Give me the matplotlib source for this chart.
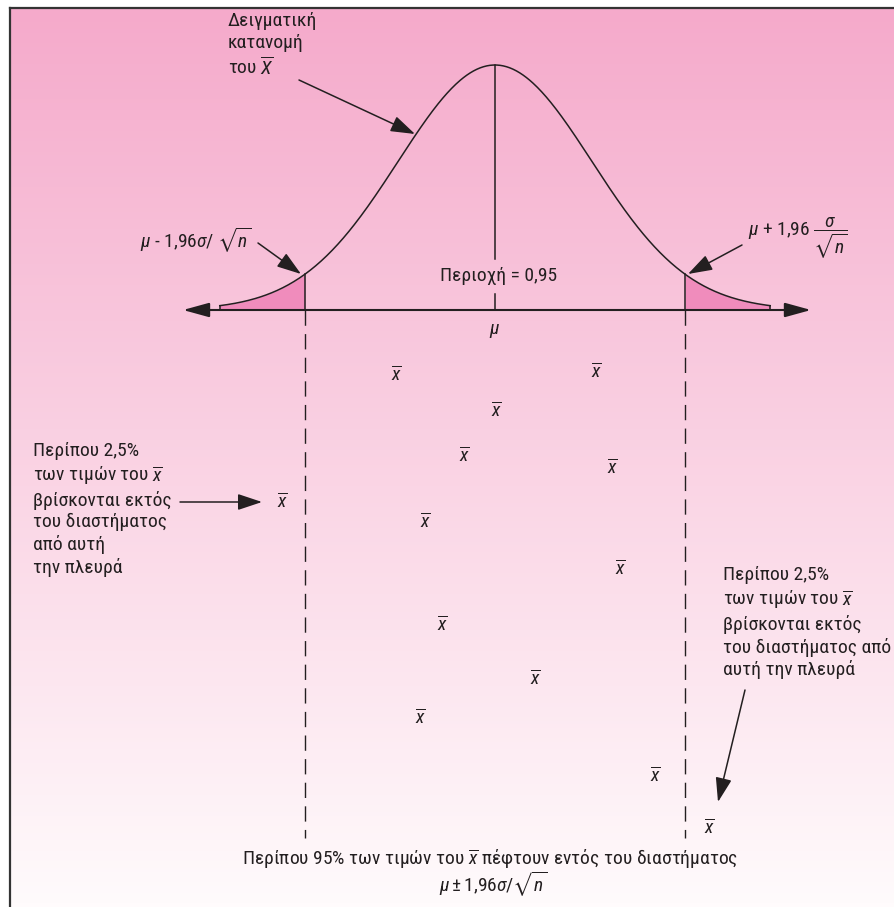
import numpy as np
import matplotlib
matplotlib.use("Agg")
import matplotlib.pyplot as plt
from matplotlib import font_manager

# sampling distribution of x-bar, x axis in standard-error units (sigma/sqrt(n))
z_crit = 1.96
tail_end = 2.84
# sample means (in SE units) and the row where each one is drawn
xbar_z = [-1.02, 1.05, 0.01, -0.31, 1.21, -2.19, -0.72, 1.29, -0.54, 0.42, -0.77, 1.66, 2.21]
xbar_row = [375, 372, 411, 456, 468, 502, 522, 569, 625, 679, 718, 776, 828]

label_dist = "Δειγματική\nκατανομή\nτου $\\overline{X}$"
label_low = r"$\mu$ - 1,96$\sigma$/ $\sqrt{n}$"
label_high = r"$\mu$ + 1,96 $\dfrac{\sigma}{\sqrt{n}}$"
label_area = "Περιοχή = 0,95"
label_left = ("Περίπου 2,5%\nτων τιμών του $\\overline{x}$\nβρίσκονται εκτός\n"
              "του διαστήματος\nαπό αυτή\nτην πλευρά")
label_right = ("Περίπου 2,5%\nτων τιμών του $\\overline{x}$\nβρίσκονται εκτός\n"
               "του διαστήματος από\nαυτή την πλευρά")
label_bottom1 = "Περίπου 95% των τιμών του $\\overline{x}$ πέφτουν εντός του διαστήματος"
label_bottom2 = r"$\mu \pm 1{,}96\sigma/\sqrt{n}$"

avail = {f.name for f in font_manager.fontManager.ttflist}
FONT = next(f for f in ["Liberation Sans Narrow", "Roboto Condensed", "Liberation Sans", "DejaVu Sans"] if f in avail)
plt.rcParams["font.family"] = [FONT, "DejaVu Sans"]
plt.rcParams["mathtext.fontset"] = "custom"
plt.rcParams["mathtext.rm"] = FONT
plt.rcParams["mathtext.sf"] = FONT
plt.rcParams["mathtext.it"] = FONT + ":italic"
plt.rcParams["mathtext.fallback"] = "stixsans"

W, H = 895, 907
MU_PX, SE_PX = 495, 96.9
AXIS_Y, PEAK_H = 310, 245
INK = "#231f20"
TAIL = "#f08cbc"
FS = 14

fig = plt.figure(figsize=(W / 100, H / 100), dpi=100)
ax = fig.add_axes([0, 0, 1, 1])


def X(px):
    return (px - MU_PX) / SE_PX


# pink gradient panel
top = np.array([245, 170, 203]) / 255
bot = np.array([255, 251, 252]) / 255
t = np.linspace(0, 1, 256)[:, None]
grad = (top + (bot - top) * t)[:, None, :]
ax.imshow(grad, extent=[X(10), X(W), H, 8], aspect="auto", zorder=0)
ax.plot([X(10), X(10)], [H, 8], color="#333333", lw=1.6, zorder=1)
ax.plot([X(10), X(W)], [8, 8], color="#333333", lw=1.6, zorder=1)

ax.set_xlim(X(0), X(W))
ax.set_ylim(H, 0)
ax.axis("off")

# normal curve
z = np.linspace(-tail_end, tail_end, 500)
pdf = np.exp(-z ** 2 / 2)
curve = AXIS_Y - PEAK_H * pdf
ax.plot(z, curve, color=INK, lw=1.1, zorder=3)
for side in (-1, 1):
    m = (side * z >= z_crit)
    ax.fill_between(z[m], curve[m], AXIS_Y, color=TAIL, lw=0, zorder=2)
    y_end = AXIS_Y - PEAK_H * np.exp(-tail_end ** 2 / 2)
    ax.plot([side * tail_end] * 2, [AXIS_Y, y_end], color=INK, lw=1.1, zorder=3)
    y_cut = AXIS_Y - PEAK_H * np.exp(-z_crit ** 2 / 2)
    ax.plot([side * z_crit] * 2, [y_cut, AXIS_Y], color=INK, lw=1.1, zorder=3)
    ax.plot([side * z_crit] * 2, [AXIS_Y, 838], color=INK, lw=1.0,
            linestyle=(0, (11, 6)), zorder=3)

# mean line, broken by the area label
ax.plot([0, 0], [AXIS_Y - PEAK_H, 259], color=INK, lw=1.1, zorder=3)
ax.plot([0, 0], [294, AXIS_Y], color=INK, lw=1.1, zorder=3)

# horizontal axis with arrow heads
ax.annotate("", xy=(X(183), AXIS_Y), xytext=(X(811), AXIS_Y),
            arrowprops=dict(arrowstyle="<|-|>,head_length=0.8,head_width=0.22",
                            mutation_scale=20, color=INK, lw=1.5,
                            shrinkA=0, shrinkB=0), zorder=4)

arrow_kw = dict(arrowstyle="-|>,head_length=0.75,head_width=0.25",
                mutation_scale=20, color=INK, lw=1.1, shrinkA=0, shrinkB=0)

ax.text(X(228), 12, label_dist, ha="left", va="top", fontsize=FS, color=INK,
        linespacing=1.25)
ax.annotate("", xy=(X(415), 134), xytext=(X(299), 80), arrowprops=arrow_kw)

ax.text(X(252), 240, label_low, ha="right", va="center", fontsize=FS, color=INK)
ax.annotate("", xy=(X(301), 274), xytext=(X(258), 243), arrowprops=arrow_kw)

ax.text(X(748), 238, label_high, ha="left", va="center", fontsize=FS, color=INK)
ax.annotate("", xy=(X(688), 274), xytext=(X(742), 245), arrowprops=arrow_kw)

ax.text(X(499), 276, label_area, ha="center", va="center", fontsize=FS, color=INK)
ax.text(0, 331, r"$\mu$", ha="center", va="center", fontsize=FS, color=INK)

for xv, row in zip(xbar_z, xbar_row):
    ax.text(xv, row, r"$\overline{x}$", ha="center", va="center", fontsize=FS, color=INK)

ax.text(X(33), 442, label_left, ha="left", va="top", fontsize=FS, color=INK,
        linespacing=1.25)
ax.annotate("", xy=(X(262), 502), xytext=(X(180), 502), arrowprops=arrow_kw)

ax.text(X(723), 566, label_right, ha="left", va="top", fontsize=FS, color=INK,
        linespacing=1.25)
ax.annotate("", xy=(X(718), 802), xytext=(X(745), 690), arrowprops=arrow_kw)

ax.text(X(490), 858, label_bottom1, ha="center", va="center", fontsize=FS, color=INK)
ax.text(X(493), 884, label_bottom2, ha="center", va="center", fontsize=FS, color=INK)

fig.savefig("out.png", dpi=100)
